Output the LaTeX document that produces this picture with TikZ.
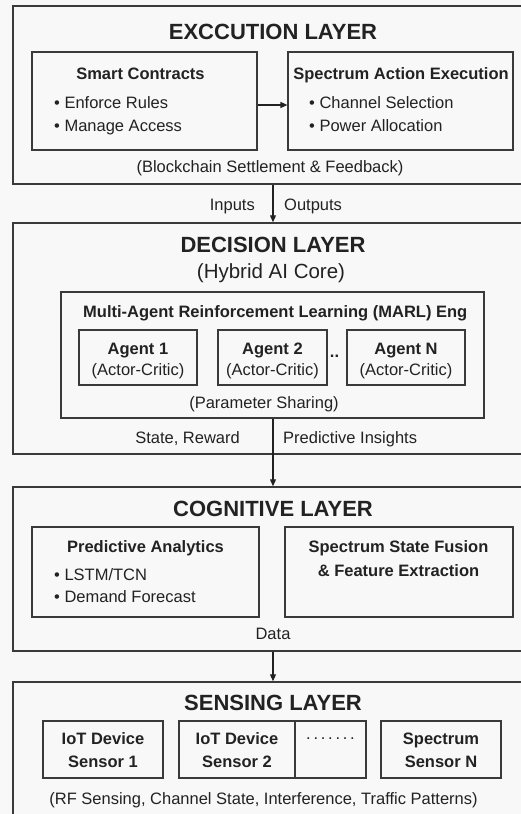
\documentclass[tikz,border=0pt]{standalone}
\usepackage{fontspec}
\setmainfont{Liberation Sans}
\usetikzlibrary{arrows.meta,fit}

\definecolor{ink}{HTML}{222222}
\definecolor{rule}{HTML}{3A3A3A}
\definecolor{paper}{HTML}{F8F8F8}

\begin{document}
\begin{tikzpicture}[x=1pt,y=-1pt,
  layer/.style={draw=rule, line width=1.5pt, inner sep=0pt},
  box/.style={draw=rule, line width=1.2pt, inner sep=0pt},
  ttl/.style={font=\fontsize{22}{26}\selectfont\bfseries, text=ink, anchor=base, inner sep=0pt},
  sub/.style={font=\fontsize{20.5}{24}\selectfont, text=ink, anchor=base, inner sep=0pt},
  hd/.style={font=\fontsize{16.5}{20}\selectfont\bfseries, text=ink, anchor=base, inner sep=0pt},
  txt/.style={font=\fontsize{16.5}{20}\selectfont, text=ink, anchor=base, inner sep=0pt},
  item/.style={txt, anchor=base west},
  arr/.style={draw=ink, line width=1.2pt, -{Triangle[length=7pt,width=6pt]}},
]
\useasboundingbox (0,0) rectangle (521,814);
\clip (0,0) rectangle (521,814);
\fill[paper] (0,0) rectangle (521,814);

% ---------- layers ----------
\node[layer, fit={(13,6) (530,184)}] (exec) {};
\node[layer, fit={(13,223) (530,454)}] (dec) {};
\node[layer, fit={(13,487) (530,651)}] (cog) {};
\node[layer, fit={(13,682) (530,830)}] (sens) {};
\coordinate (mx) at (273,0);

% ---------- execution layer ----------
\node[ttl] (execT) at (273,39.5) {EXCCUTION LAYER};
\node[box, fit={(32,52) (257,150)}] (sc) {};
\node[box, fit={(288,52) (513,150)}] (sae) {};
\node[hd] (scT) at (140.5,79.5) {Smart Contracts};
\node[item] (sc1) at (54,108.5) {•\ Enforce Rules};
\node[item] (sc2) at (54,131.5) {•\ Manage Access};
\node[hd] (saeT) at (401,79.5) {Spectrum Action Execution};
\node[item] (sae1) at (309,108.5) {•\ Channel Selection};
\node[item] (sae2) at (309,131.5) {•\ Power Allocation};
\node[txt] (execB) at (270,172) {(Blockchain Settlement \& Feedback)};
\draw[arr] ([yshift=-4pt]sc.east) -- ([yshift=-4pt]sae.west);

% ---------- execution -> decision ----------
\draw[arr] (exec.south -| mx) -- (dec.north -| mx);
\node[txt, anchor=base east] (inL) at (255,210) {Inputs};
\node[txt, anchor=base west] (outL) at (284,210) {Outputs};

% ---------- decision layer ----------
\node[ttl] (decT) at (273,252.5) {DECISION LAYER};
\node[sub] (decS) at (271,278.5) {(Hybrid AI Core)};
\node[box, fit={(61,292) (484,418)}] (marl) {};
\node[hd, anchor=base west] (marlT) at (83,317.5) {Multi-Agent Reinforcement Learning (MARL) Eng};
\node[box, fit={(79,330) (197,385)}] (ag1) {};
\node[box, fit={(218,330) (327,385)}] (ag2) {};
\node[box, fit={(347,330) (465,385)}] (agN) {};
\node[hd] (ag1T) at (138,354) {Agent 1};
\node[txt] (ag1S) at (138,375.5) {(Actor-Critic)};
\node[hd] (ag2T) at (272.5,354) {Agent 2};
\node[txt] (ag2S) at (272.5,375.5) {(Actor-Critic)};
\node[hd] (agNT) at (406,354) {Agent N};
\node[txt] (agNS) at (406,375.5) {(Actor-Critic)};
\node[hd] (agDots) at (334.5,357.5) {..};
\node[txt] (marlB) at (264,408) {(Parameter Sharing)};

% ---------- decision -> cognitive ----------
\draw[arr] (marl.south -| mx) -- (cog.north -| mx);
\node[txt, anchor=base east] (srL) at (240,443) {State, Reward};
\node[txt, anchor=base west] (piL) at (283,443) {Predictive Insights};

% ---------- cognitive layer ----------
\node[ttl] (cogT) at (273,516) {COGNITIVE LAYER};
\node[box, fit={(32,527) (259,617)}] (pa) {};
\node[box, fit={(285,527) (513,617)}] (ssf) {};
\node[hd] (paT) at (145.5,552.5) {Predictive Analytics};
\node[item] (pa1) at (54,580) {•\ LSTM/TCN};
\node[item] (pa2) at (54,602.5) {•\ Demand Forecast};
\node[hd] (ssfT1) at (398.5,552.5) {Spectrum State Fusion};
\node[hd] (ssfT2) at (398.5,576) {\& Feature Extraction};

% ---------- cognitive -> sensing ----------
\node[txt] (dataL) at (273,639) {Data};
\draw[arr] (cog.south -| mx) -- (sens.north -| mx);

% ---------- sensing layer ----------
\node[ttl] (sensT) at (273,710) {SENSING LAYER};
\node[box, fit={(43,721) (163,778)}] (s1) {};
\node[box, fit={(179,721) (366,778)}] (s2) {};
\node[box, fit={(381,721) (501,778)}] (sN) {};
\coordinate (dv) at (295,0);
\draw[rule, line width=1.2pt] (s2.north -| dv) -- (s2.south -| dv);
\node[hd] (s1a) at (103,744.5) {IoT Device};
\node[hd] (s1b) at (103,767.5) {Sensor 1};
\node[hd] (s2a) at (237,744.5) {IoT Device};
\node[hd] (s2b) at (237,767.5) {Sensor 2};
\node[txt] (s2dots) at (330.5,739) {.\,.\,.\,.\,.\,.\,.};
\node[hd] (sNa) at (441,744.5) {Spectrum};
\node[hd] (sNb) at (441,767.5) {Sensor N};
\node[txt] (sensB) at (263.5,804.5) {(RF Sensing, Channel State, Interference, Traffic Patterns)};
\end{tikzpicture}
\end{document}
